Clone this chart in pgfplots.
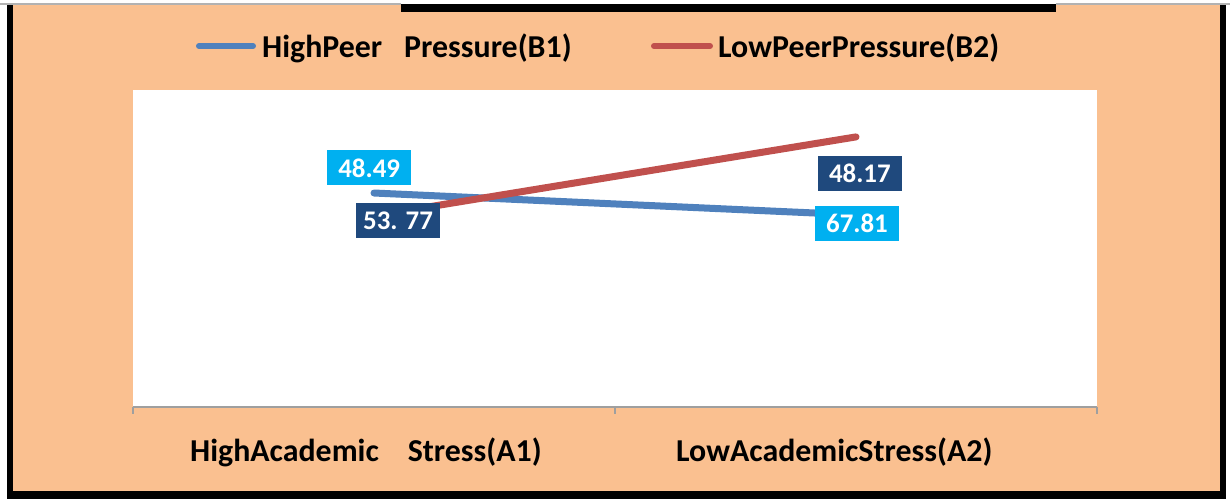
\documentclass[border=0pt]{standalone}
\usepackage{pgfplots}
\pgfplotsset{compat=1.18}
\usepackage{fontspec}
\setmainfont{Carlito}
\definecolor{peach}{HTML}{FAC090}
\definecolor{lblue}{HTML}{4F81BD}
\definecolor{lred}{HTML}{C0504D}
\definecolor{cyanbox}{HTML}{00B0F0}
\definecolor{navybox}{HTML}{1F497D}
\begin{document}
\begin{tikzpicture}[x=1bp,y=1bp]
\useasboundingbox (0,0) rectangle (1230,499);
\fill[white] (0,0) rectangle (1230,499);
\fill[peach] (7,4) rectangle (1224,495);
% border
\fill[black] (7,0) rectangle (13,495);
\fill[black] (7,0) rectangle (1226,8);
\fill[black] (1220,0) rectangle (1226,495);
\fill[black] (401,487) rectangle (1056,495);
\fill[gray!60] (0,494) rectangle (401,495.5);
\fill[gray!60] (1056,494) rectangle (1230,495.5);
\begin{axis}[
  at={(133bp,92bp)}, anchor=south west,
  scale only axis, width=964bp, height=317bp,
  xmin=0, xmax=2, ymin=0, ymax=100,
  axis y line=none,
  axis x line*=bottom,
  x axis line style={draw=gray!75, line width=1.5bp, -},
  xtick={0,1,2}, xticklabels={},
  tick align=outside, major tick length=7bp,
  xtick style={draw=gray!75, line width=1.5bp},
  axis background/.style={fill=white},
  clip=false,
]
\addplot[lblue, line width=7bp, line cap=round] coordinates {(0.5,67.5) (1.5,60.6)};
\addplot[lred, line width=7bp, line cap=round] coordinates {(0.5,60.3) (1.5,85.2)};
\tikzset{lbl/.style={font=\fontsize{27}{31}\selectfont\bfseries, text=white, minimum width=84bp, minimum height=35bp, inner sep=0pt}}
\node[lbl, fill=cyanbox] at (axis cs:0.49,75.4) {48.49};
\node[lbl, fill=navybox] at (axis cs:0.55,58.7) {53. 77};
\node[lbl, fill=navybox] at (axis cs:1.508,73.7) {48.17};
\node[lbl, fill=cyanbox] at (axis cs:1.502,57.9) {67.81};
\end{axis}
% legend
\draw[lblue, line width=6bp, line cap=round] (199,453) -- (253,453);
\node[anchor=base west, inner sep=0pt, font=\fontsize{32}{38}\selectfont\bfseries] at (262,441) {HighPeer\hspace{22bp}Pressure(B1)};
\draw[lred, line width=6bp, line cap=round] (654,453) -- (710,453);
\node[anchor=base west, inner sep=0pt, font=\fontsize{32}{38}\selectfont\bfseries] at (718,441) {LowPeerPressure(B2)};
% category labels
\node[anchor=base west, inner sep=0pt, font=\fontsize{32}{38}\selectfont\bfseries] at (190,37) {HighAcademic\hspace{29bp}Stress(A1)};
\node[anchor=base west, inner sep=0pt, font=\fontsize{32}{38}\selectfont\bfseries] at (676,37) {LowAcademicStress(A2)};
\end{tikzpicture}
\end{document}
